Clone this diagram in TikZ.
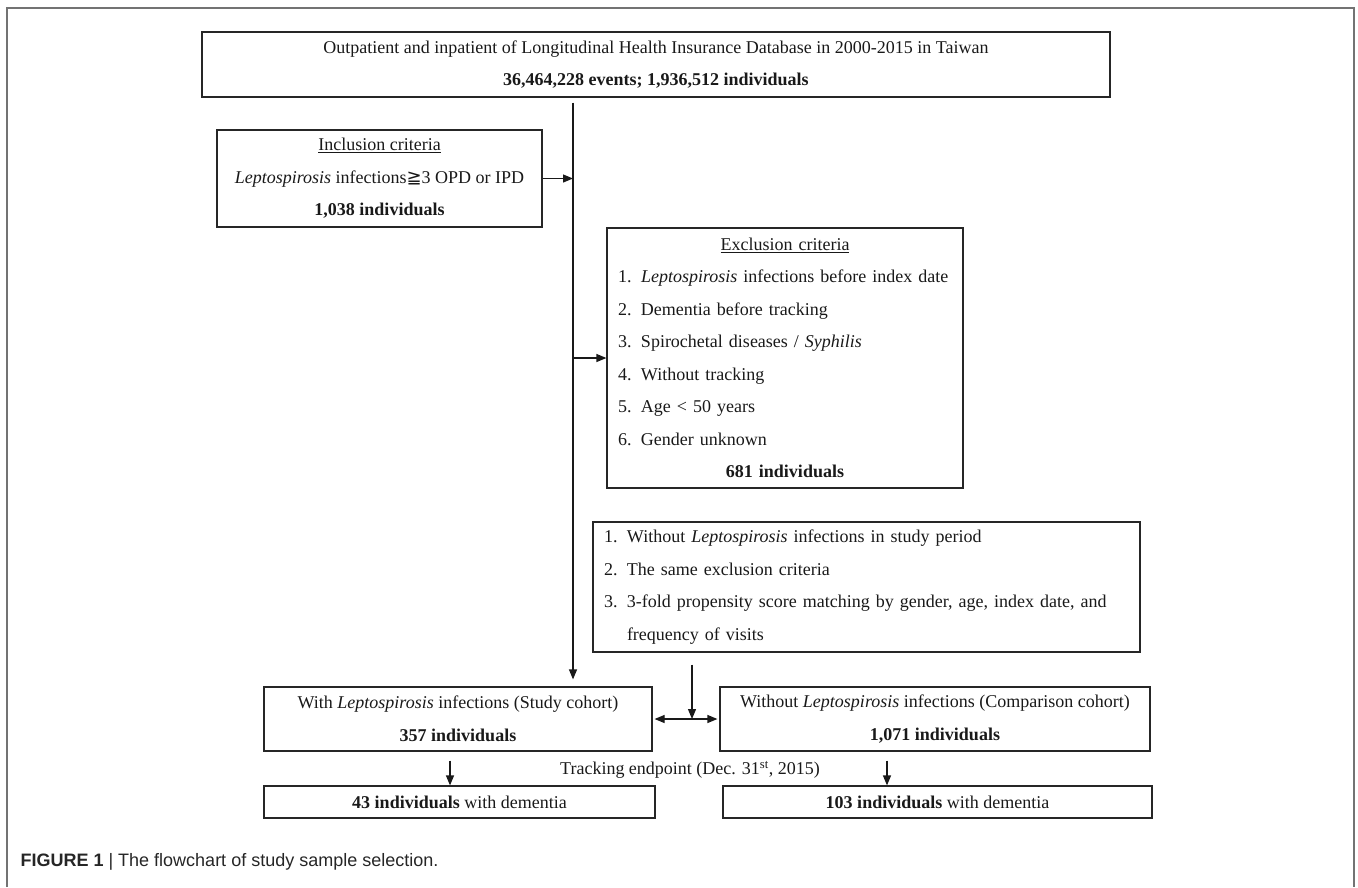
\documentclass[tikz,border=0pt]{standalone}
\usepackage{fontspec}
\setmainfont{Liberation Serif}
\setsansfont{Liberation Sans}
\newfontfamily\symfam{DejaVu Sans}
\usetikzlibrary{arrows.meta}
\newcommand{\crit}[2]{\noindent\makebox[23pt][l]{#1}\mbox{#2}\par}

\begin{document}
\begin{tikzpicture}[x=1pt,y=-1pt,
  frame/.style={draw=black!85,line width=1.2pt,inner sep=0pt,text=black!90,font=\fontsize{18}{32.5}\selectfont},
  box/.style={frame,align=center},
  listbox/.style={frame,text width=#1,inner xsep=11pt},
  arr/.style={-{Triangle[length=10pt,width=8pt]},line width=1.2pt,black!90}]
\useasboundingbox (0,0) rectangle (1358,887);
\draw[black!55,line width=2pt] (7,887) -- (7,8) -- (1354,8) -- (1354,887);
\node[box,minimum width=908pt,minimum height=65pt] (db) at (656,64.5)
  {Outpatient and inpatient of Longitudinal Health Insurance Database in 2000-2015 in Taiwan\\
   \textbf{36,464,228 events; 1,936,512 individuals}};
\node[box,minimum width=325pt,minimum height=97pt] (incl) at (379.5,178.5)
  {\underline{Inclusion criteria}\\
   \textit{Leptospirosis} infections{\symfam ≧}3 OPD or IPD\\
   \textbf{1,038 individuals}};
\node[listbox=334pt,minimum height=260pt] (excl) at (785,358)
  {{\centering\underline{Exclusion criteria}\par}
   \crit{1.}{\textit{Leptospirosis} infections before index date}
   \crit{2.}{Dementia before tracking}
   \crit{3.}{Spirochetal diseases / \textit{Syphilis}}
   \crit{4.}{Without tracking}
   \crit{5.}{Age < 50 years}
   \crit{6.}{Gender unknown}
   {\centering\textbf{681 individuals}\par}};
\node[listbox=525pt,minimum height=130pt] (match) at (866.5,587)
  {\crit{1.}{Without \textit{Leptospirosis} infections in study period}
   \crit{2.}{The same exclusion criteria}
   \crit{3.}{3-fold propensity score matching by gender, age, index date, and}
   \noindent\hspace*{23pt}frequency of visits\par};
\node[box,minimum width=388pt,minimum height=64pt] (study) at (458,719)
  {With \textit{Leptospirosis} infections (Study cohort)\\\textbf{357 individuals}};
\node[box,minimum width=430pt,minimum height=64pt] (comp) at (935,719)
  {Without \textit{Leptospirosis} infections (Comparison cohort)\\\textbf{1,071 individuals}};
\node[box,minimum width=391pt,minimum height=32pt] (demL) at (459.5,802)
  {\textbf{43 individuals} with dementia};
\node[box,minimum width=429pt,minimum height=32pt] (demR) at (937.5,802)
  {\textbf{103 individuals} with dementia};
\node[text=black!90,font=\fontsize{18}{20}\selectfont] (track) at (690,770)
  {Tracking endpoint (Dec. 31\textsuperscript{st}, 2015)};
\node[anchor=base west,text=black!85,font=\sffamily\fontsize{18}{20}\selectfont] (cap) at (17,866)
  {\textbf{FIGURE 1} | The flowchart of study sample selection.};
\coordinate (trunk) at (573,97);
\coordinate (junc) at (692,719);
\draw[arr,shorten <=5pt,shorten >=7pt] (db.south -| trunk) -- (study.north -| trunk);
\draw[arr] (incl.east) -- (incl.east -| trunk);
\draw[arr] (excl.west -| trunk) -- (excl.west);
\draw[arr,shorten <=12pt] (match.south -| junc) -- (junc);
\draw[arr,{Triangle[length=10pt,width=8pt]}-{Triangle[length=10pt,width=8pt]},shorten <=2pt,shorten >=2pt] (study.east) -- (comp.west);
\draw[arr,shorten <=9pt] ([xshift=-8pt]study.south) -- ([xshift=-8pt]study.south |- demL.north);
\draw[arr,shorten <=9pt] ([xshift=-48pt]comp.south) -- ([xshift=-48pt]comp.south |- demR.north);
\end{tikzpicture}
\end{document}
